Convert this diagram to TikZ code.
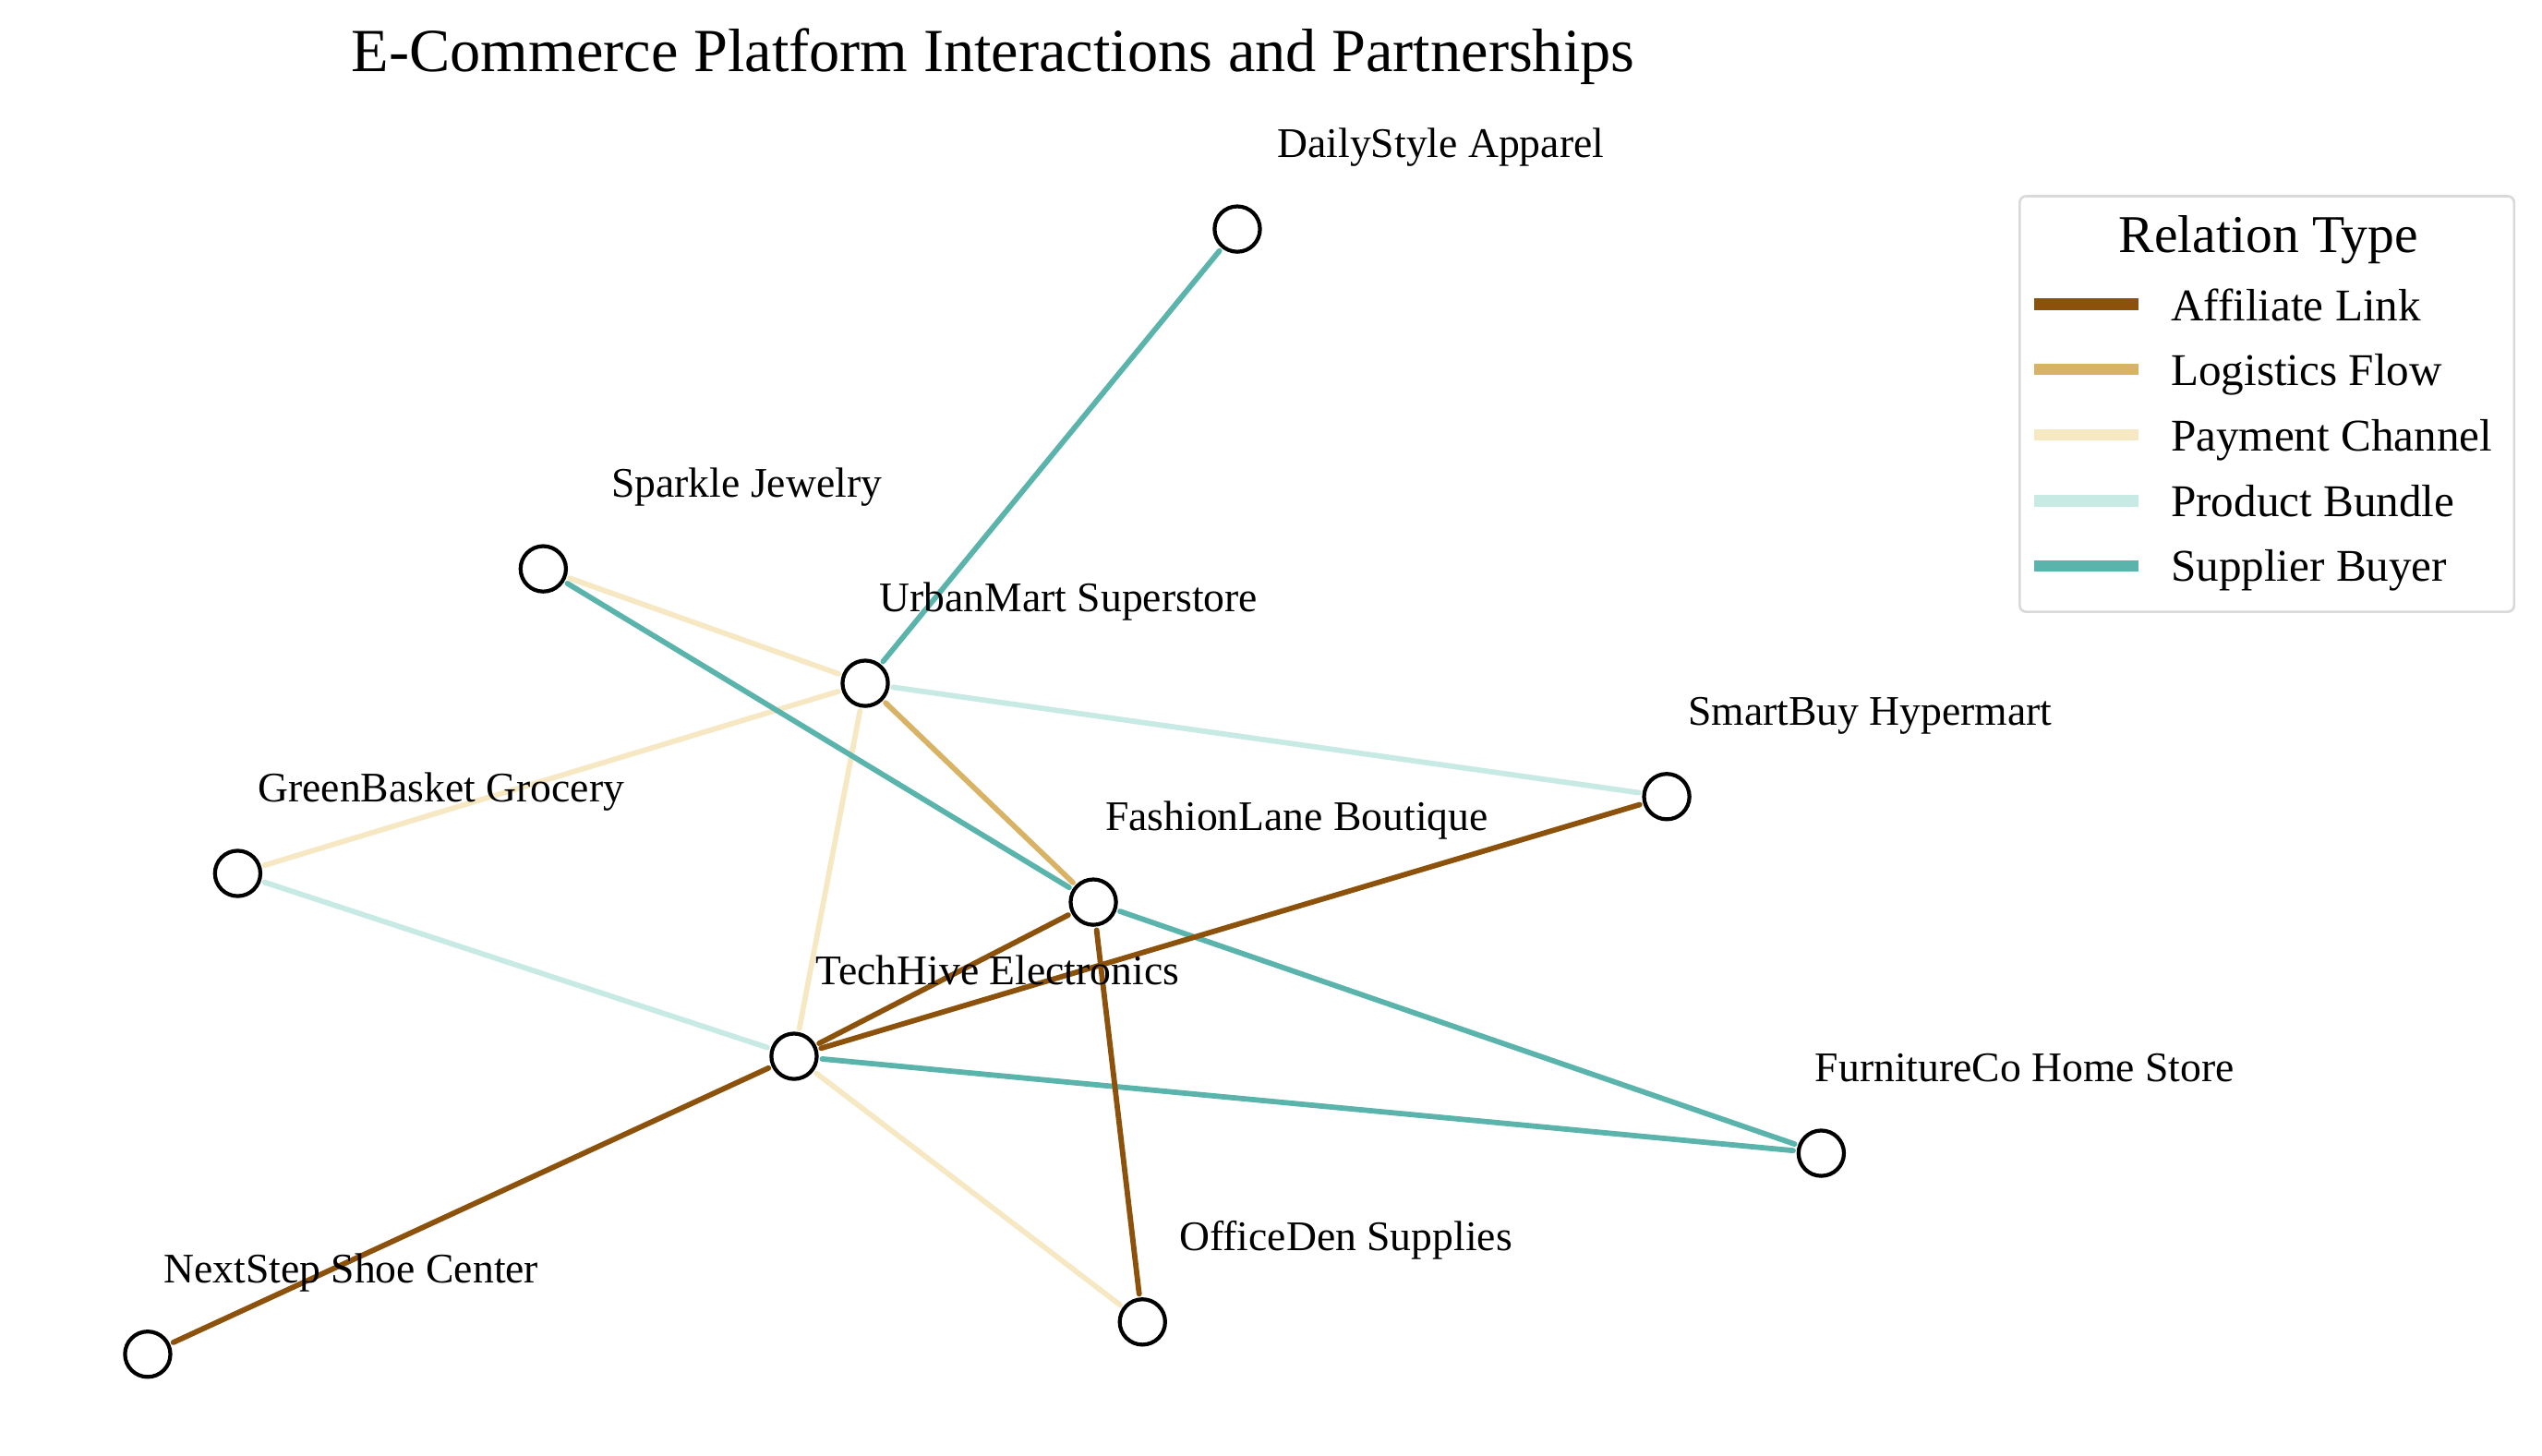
\documentclass[tikz,border=0pt]{standalone}
\usepackage{fontspec}
\setmainfont{Liberation Serif}
\pgfdeclarelayer{bg}
\pgfsetlayers{bg,main}
\definecolor{caff}{HTML}{8C510A}
\definecolor{clog}{HTML}{D8B365}
\definecolor{cpay}{HTML}{F6E8C3}
\definecolor{cbun}{HTML}{C7EAE5}
\definecolor{csup}{HTML}{5AB4AC}
\definecolor{legborder}{HTML}{D9D9D9}
\tikzset{
  vert/.style={circle, draw=black, fill=white, line width=2.4pt, minimum size=28pt, inner sep=0pt, outer sep=3.4pt},
  lbl/.style={anchor=base, inner sep=0pt, font=\fontsize{26}{31}\selectfont},
  edge/.style={line width=3.3pt, line cap=round},
  aff/.style={edge, draw=caff},
  logi/.style={edge, draw=clog},
  pay/.style={edge, draw=cpay},
  bun/.style={edge, draw=cbun},
  sup/.style={edge, draw=csup},
  legline/.style={line width=7pt},
  legtxt/.style={anchor=base west, inner sep=0pt, font=\fontsize{28}{33}\selectfont},
}
\begin{document}
\begin{tikzpicture}[x=1pt, y=-1pt]
\useasboundingbox (0,0) rectangle (1568,898);
% title
\node[anchor=base, inner sep=0pt, font=\fontsize{37.8}{45}\selectfont] (title) at (612.6,44) {E-Commerce Platform Interactions and Partnerships};
% vertices
\node[vert] (daily) at (763.2,141.3) {};
\node[vert] (spark) at (335.1,350.9) {};
\node[vert] (urban) at (533.7,421.5) {};
\node[vert] (smart) at (1028.1,491.4) {};
\node[vert] (green) at (146.6,538.8) {};
\node[vert] (fash) at (674.4,556.5) {};
\node[vert] (tech) at (489.8,651.6) {};
\node[vert] (furn) at (1123.4,711.4) {};
\node[vert] (office) at (704.7,815.5) {};
\node[vert] (next) at (91.1,835.4) {};
% labels
\node[lbl] (ldaily) at ([xshift=125.5pt,yshift=44pt]daily.center) {DailyStyle Apparel};
\node[lbl] (lspark) at ([xshift=125.5pt,yshift=44pt]spark.center) {Sparkle Jewelry};
\node[lbl] (lurban) at ([xshift=125.5pt,yshift=44pt]urban.center) {UrbanMart Superstore};
\node[lbl] (lsmart) at ([xshift=125.5pt,yshift=44pt]smart.center) {SmartBuy Hypermart};
\node[lbl] (lgreen) at ([xshift=125.5pt,yshift=44pt]green.center) {GreenBasket Grocery};
\node[lbl] (lfash) at ([xshift=125.5pt,yshift=44pt]fash.center) {FashionLane Boutique};
\node[lbl] (ltech) at ([xshift=125.5pt,yshift=44pt]tech.center) {TechHive Electronics};
\node[lbl] (lfurn) at ([xshift=125.5pt,yshift=44pt]furn.center) {FurnitureCo Home Store};
\node[lbl] (loffice) at ([xshift=125.5pt,yshift=44pt]office.center) {OfficeDen Supplies};
\node[lbl] (lnext) at ([xshift=125.5pt,yshift=44pt]next.center) {NextStep Shoe Center};
% edges
\begin{pgfonlayer}{bg}
\fill[white] (0,0) rectangle (1568,898);
\draw[pay] (spark) -- (urban);
\draw[pay] (urban) -- (green);
\draw[pay] (urban) -- (tech);
\draw[pay] (tech) -- (office);
\draw[bun] (urban) -- (smart);
\draw[bun] (green) -- (tech);
\draw[logi] (urban) -- (fash);
\draw[sup] (daily) -- (urban);
\draw[sup] (spark) -- (fash);
\draw[sup] (fash) -- (furn);
\draw[sup] (tech) -- (furn);
\draw[aff] (fash) -- (tech);
\draw[aff] (fash) -- (office);
\draw[aff] (smart) -- (tech);
\draw[aff] (tech) -- (next);
\end{pgfonlayer}
% legend
\draw[legborder, line width=1.5pt, rounded corners=4pt, fill=white] (1245.8,121) rectangle (1550.8,377.4);
\node[anchor=base, inner sep=0pt, font=\fontsize{32.8}{38}\selectfont] (legtitle) at (1399.2,156) {Relation Type};
\coordinate (la1) at (1255,187.6); \coordinate (lb1) at (1319,187.6);
\coordinate (la2) at (1255,227.8); \coordinate (lb2) at (1319,227.8);
\coordinate (la3) at (1255,268.3); \coordinate (lb3) at (1319,268.3);
\coordinate (la4) at (1255,308.9); \coordinate (lb4) at (1319,308.9);
\coordinate (la5) at (1255,349.3); \coordinate (lb5) at (1319,349.3);
\draw[legline, caff] (la1) -- (lb1);
\draw[legline, clog] (la2) -- (lb2);
\draw[legline, cpay] (la3) -- (lb3);
\draw[legline, cbun] (la4) -- (lb4);
\draw[legline, csup] (la5) -- (lb5);
\node[legtxt] (lt1) at (1338.9,197.8) {Affiliate Link};
\node[legtxt] (lt2) at (1338.9,237.7) {Logistics Flow};
\node[legtxt] (lt3) at (1338.9,278.1) {Payment Channel};
\node[legtxt] (lt4) at (1338.9,318.6) {Product Bundle};
\node[legtxt] (lt5) at (1338.9,358.8) {Supplier Buyer};
\end{tikzpicture}
\end{document}
